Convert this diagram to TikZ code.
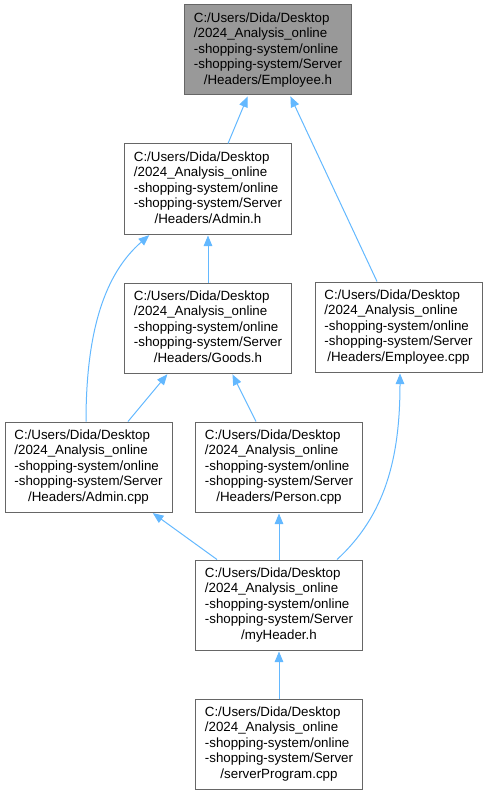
\documentclass[tikz,border=0pt]{standalone}
\usepackage{fontspec}
\setmainfont{Liberation Sans}
\usetikzlibrary{arrows.meta,calc}
\definecolor{edgeblue}{HTML}{63B8FF}
\definecolor{boxgray}{HTML}{666666}
\definecolor{rootfill}{HTML}{999999}
\newcommand\plbl[1]{\fontsize{10pt}{11.6pt}\selectfont\begin{tabular}{@{}l@{}}C:/Users/Dida/Desktop\\/2024\_Analysis\_online\\-shopping-system/online\\-shopping-system/Server\\\multicolumn{1}{@{}c@{}}{#1}\end{tabular}}
\begin{document}
\begin{tikzpicture}[x=0.75pt,y=-0.75pt,
  file/.style={draw=boxgray,line width=0.75pt,fill=white,minimum width=125.25pt,minimum height=67.5pt,inner sep=0pt},
  root/.style={file,fill=rootfill},
  edge/.style={draw=edgeblue,line width=0.75pt,-{Triangle[length=8pt,width=6.5pt]},shorten >=0.75pt}]
\useasboundingbox (0,0) rectangle (488,795);
\node[root] (emph) at (268,50) {\plbl{/Headers/Employee.h}};
\node[file] (admh) at (208,189) {\plbl{/Headers/Admin.h}};
\node[file] (goodh) at (208,328) {\plbl{/Headers/Goods.h}};
\node[file] (empcpp) at (398.5,327) {\plbl{/Headers/Employee.cpp}};
\node[file] (admcpp) at (88.5,467) {\plbl{/Headers/Admin.cpp}};
\node[file] (perscpp) at (279,467) {\plbl{/Headers/Person.cpp}};
\node[file] (myh) at (279,605) {\plbl{/myHeader.h}};
\node[file] (srv) at (279,744) {\plbl{/serverProgram.cpp}};

\draw[edge] ($(admh.north)+(20,0)$) -- ($(emph.south)+(-20,0)$);
\draw[edge] ($(empcpp.north)+(-21.5,0)$) -- ($(emph.south)+(22,0)$);
\draw[edge] (goodh.north) -- (admh.south);
\draw[edge] ($(admcpp.north)+(-2.5,0)$) .. controls ($(admcpp.north)+(-2.5,-91)$) and ($(admh.south)+(-103,39)$) .. ($(admh.south)+(-58,0)$);
\draw[edge] ($(admcpp.north)+(39.5,0)$) -- ($(goodh.south)+(-40,0)$);
\draw[edge] ($(perscpp.north)+(-23,0)$) -- ($(goodh.south)+(24,0)$);
\draw[edge] ($(myh.north)+(-62,0)$) -- ($(admcpp.south)+(63.5,0)$);
\draw[edge] (myh.north) -- (perscpp.south);
\draw[edge] ($(myh.north)+(58,0)$) .. controls ($(myh.north)+(106,-44)$) and ($(empcpp.south)+(1.5,86)$) .. ($(empcpp.south)+(1.5,0)$);
\draw[edge] (srv.north) -- (myh.south);
\end{tikzpicture}
\end{document}
